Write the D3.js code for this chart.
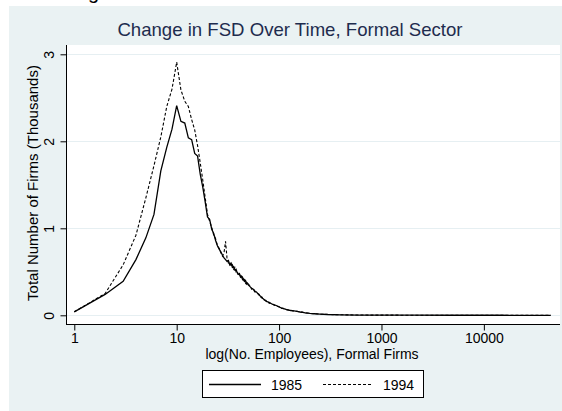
<!DOCTYPE html>
<html>
<head>
<meta charset="utf-8">
<script src="https://cdn.jsdelivr.net/npm/d3@7"></script>
<style>
  body { margin: 0; background: #fff; }
  svg { display: block; font-family: "Liberation Sans", Arial, sans-serif; }
</style>
</head>
<body>
<div id="chart"></div>
<script>
// firm size (no. employees)
var sizes = [1,2,3,4,5,6,7,8,9,10,
  11,12,13,14,15,16,17,18,19,20,
  21,22,23,24,25,26,27,28,29,30,
  31,32,33,34,35,36,37,38,39,40,
  41,42,43,44,45,46,47,48,49,50,
  52,54,56,58,60,62,64,66,68,70,
  75,80,85,90,95,100,105,110,115,120,
  130,140,150,160,170,180,190,200,
  220,250,300,400,600,1000,2000,5000,15000,45000];

// number of firms, thousands
var firms1985 = [0.04,0.24,0.39,0.64,0.89,1.16,1.66,1.93,2.14,2.41,
  2.23,2.21,2.04,2.02,1.86,1.83,1.62,1.47,1.30,1.13,
  1.10,0.99,0.94,0.86,0.80,0.76,0.73,0.69,0.66,0.64,
  0.62,0.63,0.58,0.60,0.55,0.56,0.52,0.53,0.49,0.47,
  0.48,0.44,0.45,0.41,0.42,0.39,0.40,0.36,0.37,0.35,
  0.33,0.31,0.30,0.27,0.27,0.25,0.23,0.22,0.20,0.19,
  0.16,0.15,0.13,0.12,0.11,0.095,0.085,0.078,0.07,0.062,
  0.055,0.05,0.044,0.038,0.034,0.029,0.026,0.022,
  0.018,0.014,0.009,0.005,0.003,0.0015,0.001,0.0005,0.0003,0.0002];

var firms1994 = [0.04,0.25,0.58,0.92,1.35,1.72,2.05,2.40,2.60,2.91,
  2.59,2.46,2.40,2.25,2.13,1.95,1.75,1.55,1.35,1.16,
  1.08,1.01,0.92,0.88,0.80,0.77,0.72,0.68,0.72,0.85,
  0.66,0.60,0.61,0.56,0.58,0.53,0.55,0.50,0.51,0.46,
  0.47,0.45,0.42,0.44,0.40,0.41,0.37,0.38,0.35,0.36,
  0.34,0.30,0.31,0.28,0.26,0.25,0.24,0.21,0.21,0.18,
  0.17,0.14,0.135,0.115,0.105,0.10,0.08,0.08,0.068,0.065,
  0.058,0.047,0.046,0.036,0.036,0.028,0.027,0.021,
  0.019,0.013,0.01,0.006,0.003,0.002,0.001,0.0006,0.0003,0.0002];

var xTicks = [1, 10, 100, 1000, 10000];
var yTicks = [0, 1, 2, 3];
var seriesNames = ["1985", "1994"];

var W = 562, H = 411;
var plot = { left: 66, right: 560, top: 45, bottom: 324 };

var svg = d3.select("#chart").append("svg")
  .attr("width", W)
  .attr("height", H);

// bit of text cut off above the chart
svg.append("text")
  .attr("x", 88)
  .attr("y", -1)
  .style("font-size", "20px")
  .style("fill", "#000")
  .text("g");

// outer background
svg.append("rect")
  .attr("x", 9).attr("y", 6)
  .attr("width", W - 9).attr("height", H - 6)
  .attr("fill", "#eaf2f3");

svg.append("rect")
  .attr("x", plot.left).attr("y", plot.top)
  .attr("width", plot.right - plot.left).attr("height", plot.bottom - plot.top)
  .attr("fill", "#fff");

var x = d3.scaleLog()
  .domain([0.83, 55400])
  .range([plot.left, plot.right]);

var y = d3.scaleLinear()
  .domain([-0.1, 3.107])
  .range([plot.bottom, plot.top]);

// grid lines
svg.append("g")
  .selectAll("line")
  .data(yTicks)
  .enter().append("line")
    .attr("x1", plot.left + 1)
    .attr("x2", plot.right)
    .attr("y1", function(d) { return Math.round(y(d)) + 0.5; })
    .attr("y2", function(d) { return Math.round(y(d)) + 0.5; })
    .attr("stroke", "#e6eff2")
    .attr("stroke-width", 1);

// Y axis
var yAxis = svg.append("g")
  .attr("transform", "translate(" + (plot.left + 0.5) + ",0)")
  .call(d3.axisLeft(y).tickValues(yTicks).tickSize(6).tickPadding(4).tickFormat(d3.format("d")));
yAxis.select(".domain").attr("d", "M0," + plot.top + "V" + (plot.bottom + 0.5)).attr("stroke", "#000");
yAxis.selectAll(".tick line").attr("stroke", "#000");
yAxis.selectAll(".tick text")
  .attr("x", null).attr("dy", null)
  .attr("transform", "translate(-13,0) rotate(-90)")
  .attr("text-anchor", "middle")
  .attr("y", 0)
  .style("font-size", "14px")
  .style("fill", "#000")
  .style("font-family", "Liberation Sans, Arial, sans-serif");

// X axis
var xAxis = svg.append("g")
  .attr("transform", "translate(0," + (plot.bottom + 0.5) + ")")
  .call(d3.axisBottom(x).tickValues(xTicks).tickSize(6).tickPadding(3).tickFormat(d3.format("d")));
xAxis.select(".domain").attr("d", "M" + plot.left + ",0H" + plot.right).attr("stroke", "#000");
xAxis.selectAll(".tick line").attr("stroke", "#000");
xAxis.selectAll(".tick text")
  .style("font-size", "14px")
  .style("fill", "#000")
  .style("font-family", "Liberation Sans, Arial, sans-serif");

// lines
var rows = sizes.map(function(s, i) { return { n: s, a: firms1985[i], b: firms1994[i] }; });

var line85 = d3.line()
  .x(function(d) { return x(d.n); })
  .y(function(d) { return y(d.a); });
var line94 = d3.line()
  .x(function(d) { return x(d.n); })
  .y(function(d) { return y(d.b); });

svg.append("path")
  .datum(rows)
  .attr("d", line94)
  .attr("fill", "none")
  .attr("stroke", "#000")
  .attr("stroke-width", 1.1)
  .attr("stroke-dasharray", "3,2");

svg.append("path")
  .datum(rows)
  .attr("d", line85)
  .attr("fill", "none")
  .attr("stroke", "#000")
  .attr("stroke-width", 1.3);

// title
svg.append("text")
  .attr("x", 290)
  .attr("y", 36)
  .attr("text-anchor", "middle")
  .style("font-size", "18.6px")
  .style("fill", "#1e2c4e")
  .text("Change in FSD Over Time, Formal Sector");

// axis titles
svg.append("text")
  .attr("transform", "translate(38,183) rotate(-90)")
  .attr("text-anchor", "middle")
  .style("font-size", "15px")
  .style("fill", "#000")
  .text("Total Number of Firms (Thousands)");

svg.append("text")
  .attr("x", 312)
  .attr("y", 358.5)
  .attr("text-anchor", "middle")
  .style("font-size", "14px")
  .style("fill", "#000")
  .text("log(No. Employees), Formal Firms");

// legend
var lg = svg.append("g");
lg.append("rect")
  .attr("x", 202.5).attr("y", 370.5)
  .attr("width", 221).attr("height", 27)
  .attr("fill", "#fff")
  .attr("stroke", "#000");

var legendItems = [
  { name: seriesNames[0], x0: 209, x1: 261, tx: 271, dash: null, w: 1.3 },
  { name: seriesNames[1], x0: 323, x1: 373, tx: 383, dash: "3,2", w: 1.1 }
];
legendItems.forEach(function(d) {
  lg.append("line")
    .attr("x1", d.x0).attr("x2", d.x1)
    .attr("y1", 384.5).attr("y2", 384.5)
    .attr("stroke", "#000")
    .attr("stroke-width", d.w)
    .attr("stroke-dasharray", d.dash);
  lg.append("text")
    .attr("x", d.tx).attr("y", 389.5)
    .style("font-size", "14px")
    .style("fill", "#000")
    .text(d.name);
});
</script>
</body>
</html>
